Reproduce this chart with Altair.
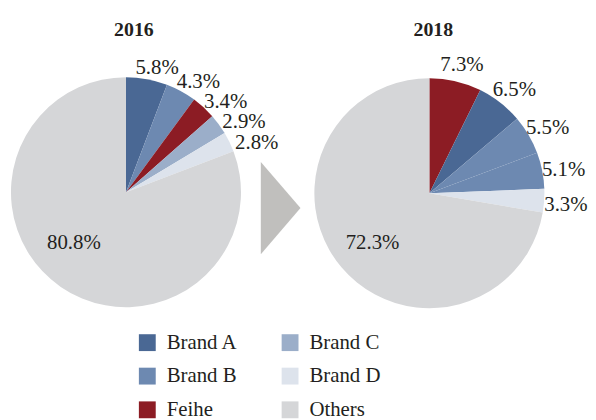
import altair as alt
import pandas as pd

# ---- data ----
years = ["2016", "2018"]
brands_2016 = ["Brand A", "Brand B", "Feihe", "Brand C", "Brand D", "Others"]
share_2016 = [5.8, 4.3, 3.4, 2.9, 2.8, 80.8]
brands_2018 = ["Feihe", "Brand A", "Brand B", "Brand C", "Brand D", "Others"]
share_2018 = [7.3, 6.5, 5.5, 5.1, 3.3, 72.3]

legend_order = ["Brand A", "Brand B", "Feihe", "Brand C", "Brand D", "Others"]
color_keys = legend_order + ["Brand C (2018)"]
color_range = ["#4A6894", "#6D89B1", "#8C1C24", "#9BAEC9", "#DDE3EC", "#D5D6D8", "#6D89B1"]

df = pd.DataFrame({
    "year": [years[0]] * len(brands_2016) + [years[1]] * len(brands_2018),
    "brand": brands_2016 + brands_2018,
    "share": share_2016 + share_2018,
    "order": list(range(len(brands_2016))) + list(range(len(brands_2018))),
})

FONT = "'Liberation Serif', 'Times New Roman', Times, serif"
INK = "#231F20"
FS = 21

color_enc = alt.Color(
    "colorKey:N",
    scale=alt.Scale(domain=color_keys, range=color_range),
    legend=alt.Legend(
        orient="none", legendX=130, legendY=325, columns=2, title=None,
        values=legend_order, symbolType="square", symbolSize=289,
        symbolStrokeWidth=0, labelFont=FONT, labelFontSize=FS,
        labelColor=INK, labelOffset=9, rowPadding=12, columnPadding=42,
        labelLimit=200,
    ),
)


def pie(year, cx, cy, tx, r_small, dx_s, dy_s, dx_b, dy_b):
    base = alt.Chart(df).transform_filter(alt.datum.year == year).transform_calculate(
        colorKey="datum.year == '2018' && datum.brand == 'Brand C' ? 'Brand C (2018)' : datum.brand",
        lbl="datum.brand == 'Others' ? '' : format(datum.share, '.1f') + '%'",
        olbl="datum.brand == 'Others' ? format(datum.share, '.1f') + '%' : ''",
    )
    enc = dict(
        theta=alt.Theta("share:Q", stack=True),
        order=alt.Order("order:Q"),
        detail="brand:N",
        x=alt.value(cx),
        y=alt.value(cy),
    )
    arc = base.mark_arc(outerRadius=116).encode(color=color_enc, **enc)
    small = base.mark_text(radius=r_small, dx=dx_s, dy=dy_s, font=FONT,
                           fontSize=FS, color=INK).encode(text="lbl:N", **enc)
    big = base.mark_text(radius=75, dx=dx_b, dy=dy_b, font=FONT,
                         fontSize=FS, color=INK).encode(text="olbl:N", **enc)
    title = alt.Chart(pd.DataFrame({"t": [year]})).mark_text(
        font=FONT, fontSize=20, fontWeight="bold", color=INK
    ).encode(text="t:N", x=alt.value(tx), y=alt.value(20))
    return [arc, small, big, title]


arrow = alt.Chart(pd.DataFrame({"a": [1]})).mark_point(
    shape="M -0.43 -1 L 0.43 0 L -0.43 1 Z", size=8649, filled=True,
    color="#C0BFBD", opacity=1,
).encode(x=alt.value(275), y=alt.value(200))

chart = alt.layer(
    *pie("2016", 119, 184, 127, 140, 6, 12, -10, -10),
    *pie("2018", 425, 185, 429, 136, 2, 3, 0, 2),
    arrow,
).properties(width=580, height=404, padding=0).configure_view(strokeWidth=0)

chart.save("out.html", embed_options={"renderer": "svg", "actions": False})
